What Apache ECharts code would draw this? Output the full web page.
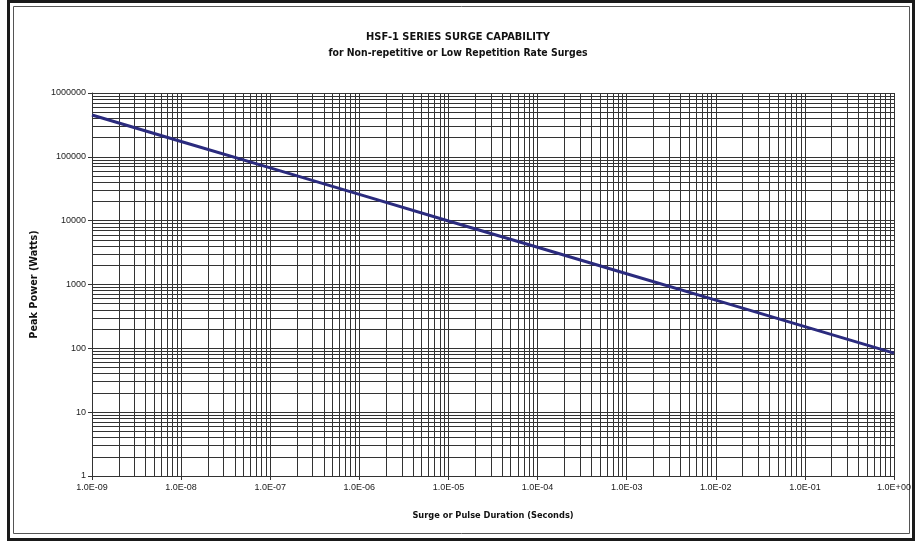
<!DOCTYPE html>
<html>
<head>
<meta charset="utf-8">
<script src="https://cdn.jsdelivr.net/npm/echarts@6/dist/echarts.min.js"></script>
<style>
html,body{margin:0;padding:0;background:#fff;}
#c{width:916px;height:544px;}
</style>
</head>
<body>
<div id="c"></div>
<script>
// ---- data ----
var durations = [1e-9, 1e-8, 1e-7, 1e-6, 1e-5, 1e-4, 1e-3, 1e-2, 1e-1, 1];
var peakPower = [452000, 174000, 67000, 25800, 9900, 3830, 1475, 568, 219, 84];
var xTickLabels = ['1.0E-09','1.0E-08','1.0E-07','1.0E-06','1.0E-05','1.0E-04','1.0E-03','1.0E-02','1.0E-01','1.0E+00'];
var yTickLabels = ['1','10','100','1000','10000','100000','1000000'];
var xDecades = [1e-9, 1e-8, 1e-7, 1e-6, 1e-5, 1e-4, 1e-3, 1e-2, 1e-1];
var yDecades = [1, 10, 100, 1000, 10000, 100000];
var minorSteps = [2, 3, 4, 5, 6, 7, 8, 9];

var NARROW = "'Liberation Sans Narrow','DejaVu Sans Condensed','Arial Narrow',sans-serif";
var SANS = "'Liberation Sans',Arial,sans-serif";

var X_MIN = 1e-9, X_MAX = 1, Y_MIN = 1, Y_MAX = 1000000;

function labelFor(list, min, v) {
  var i = Math.round(Math.log10(v) - Math.log10(min));
  return list[i] !== undefined ? list[i] : '';
}

// minor grid lines at 2..9 of each decade, placed through the axes
var minorLines = [];
xDecades.forEach(function (d) {
  minorSteps.forEach(function (m) {
    var v = d * m;
    minorLines.push({ coords: [[v, Y_MIN], [v, Y_MAX]] });
  });
});
yDecades.forEach(function (d) {
  minorSteps.forEach(function (m) {
    var v = d * m;
    minorLines.push({ coords: [[X_MIN, v], [X_MAX, v]] });
  });
});

var gridColor = '#333';

var chart = echarts.init(document.getElementById('c'), null, { renderer: 'canvas' });
chart.setOption({
  animation: false,
  backgroundColor: '#fff',
  title: {
    text: 'HSF-1 SERIES SURGE CAPABILITY',
    subtext: 'for Non-repetitive or Low Repetition Rate Surges',
    left: 'center',
    top: 27,
    itemGap: 5,
    textStyle: { fontFamily: NARROW, fontWeight: 'bold', fontSize: 11, color: '#111' },
    subtextStyle: { fontFamily: NARROW, fontWeight: 'bold', fontSize: 10.4, color: '#111' }
  },
  graphic: [
    { type: 'rect', shape: { x: 8.5, y: 1.5, width: 905, height: 538 }, style: { fill: null, stroke: '#1a1a1a', lineWidth: 3 }, silent: true, z: -10 },
    { type: 'rect', shape: { x: 13.5, y: 6.5, width: 896, height: 527 }, style: { fill: null, stroke: '#555', lineWidth: 1 }, silent: true, z: -10 }
  ],
  grid: { left: 92, right: 22, top: 93, bottom: 68 },
  xAxis: {
    type: 'log',
    logBase: 10,
    min: X_MIN,
    max: X_MAX,
    splitNumber: 9,
    name: 'Surge or Pulse Duration (Seconds)',
    nameLocation: 'middle',
    nameGap: 35,
    nameTextStyle: { fontFamily: NARROW, fontWeight: 'bold', fontSize: 9.2, color: '#111' },
    axisLine: { show: true, lineStyle: { color: '#333', width: 1 } },
    axisTick: { show: true, length: 4, lineStyle: { color: '#333' } },
    axisLabel: {
      margin: 7,
      fontFamily: SANS, fontSize: 9, color: '#222',
      formatter: function (v) { return labelFor(xTickLabels, X_MIN, v); }
    },
    splitLine: { show: true, lineStyle: { color: gridColor, width: 1 } }
  },
  yAxis: {
    type: 'log',
    logBase: 10,
    min: Y_MIN,
    max: Y_MAX,
    splitNumber: 6,
    name: 'Peak Power (Watts)',
    nameLocation: 'middle',
    nameGap: 52,
    nameTextStyle: { fontFamily: NARROW, fontWeight: 'bold', fontSize: 10.8, color: '#111' },
    axisLine: { show: true, lineStyle: { color: '#333', width: 1 } },
    axisTick: { show: true, length: 4, lineStyle: { color: '#333' } },
    axisLabel: {
      margin: 6,
      fontFamily: SANS, fontSize: 9, color: '#222',
      formatter: function (v) { return labelFor(yTickLabels, Y_MIN, v); }
    },
    splitLine: { show: true, lineStyle: { color: gridColor, width: 1 } }
  },
  series: [
    {
      type: 'lines',
      coordinateSystem: 'cartesian2d',
      silent: true,
      polyline: false,
      lineStyle: { color: gridColor, width: 1, opacity: 1 },
      data: minorLines,
      z: 1
    },
    {
      type: 'line',
      data: durations.map(function (d, i) { return [d, peakPower[i]]; }),
      showSymbol: false,
      smooth: false,
      lineStyle: { color: '#2b2b7e', width: 3 },
      z: 5
    }
  ]
});
</script>
</body>
</html>
